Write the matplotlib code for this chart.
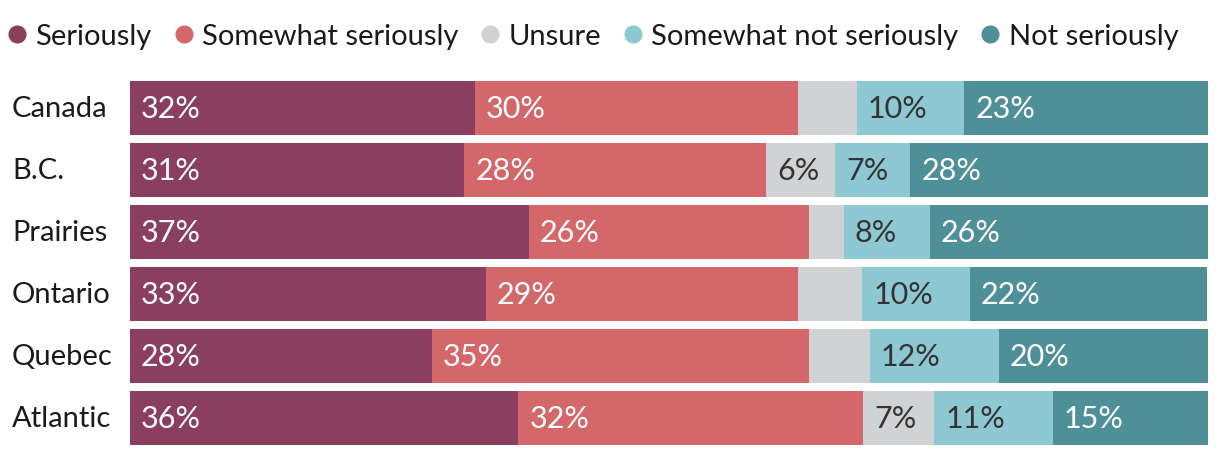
import matplotlib
matplotlib.use("Agg")
import matplotlib.pyplot as plt
import matplotlib.transforms as mtransforms
from matplotlib.lines import Line2D
import numpy as np

plt.rcParams['font.family'] = ['Lato', 'DejaVu Sans']

# data
regions = ["Canada", "B.C.", "Prairies", "Ontario", "Quebec", "Atlantic"]
series = ["Seriously", "Somewhat seriously", "Unsure", "Somewhat not seriously", "Not seriously"]
seriously = [32, 31, 37, 33, 28, 36]
somewhat_seriously = [30, 28, 26, 29, 35, 32]
unsure = [5.4, 6.4, 3.2, 5.9, 5.6, 6.6]
somewhat_not = [10, 7, 8, 10, 12, 11]
not_seriously = [23, 28, 26, 22, 20, 15]

colors = ["#8a3e60", "#d4676a", "#d1d2d4", "#8ec9d3", "#4f8f97"]
text_colors = ["white", "white", "#333333", "#333333", "white"]

values = np.array([seriously, somewhat_seriously, unsure, somewhat_not, not_seriously])

fig = plt.figure(figsize=(12.2, 4.56), dpi=100)
# bars run from y=82 to y=446 px, x=130 to x=1208 px
ax = fig.add_axes([130 / 1220, 10 / 456, 1078 / 1220, 364 / 456])

y = np.arange(len(regions))
left = np.zeros(len(regions))
for i, name in enumerate(series):
    ax.barh(y, values[i], left=left, height=0.871, color=colors[i], label=name)
    for j in range(len(regions)):
        v = values[i][j]
        if v >= 6:
            ax.annotate(f"{v:.0f}%", xy=(left[j], y[j]), xytext=(8, 0),
                        textcoords="offset points", ha="left", va="center",
                        fontsize=22, color=text_colors[i])
    left += values[i]

ax.set_xlim(0, 100)
ax.set_ylim(len(regions) - 1 + 0.4355, -0.4355)
ax.axis("off")

# category labels at the left edge of the figure
trans = mtransforms.blended_transform_factory(fig.transFigure, ax.transData)
for j, r in enumerate(regions):
    ax.text(12 / 1220, y[j], r, transform=trans, ha="left", va="center",
            fontsize=21, color="#1a1a1a")

# legend
handles = [Line2D([], [], marker="o", linestyle="none", markersize=12,
                  markerfacecolor=c, markeredgecolor=c) for c in colors]
fig.legend(handles, series, loc="center left", bbox_to_anchor=(-3 / 1220, 1 - 37 / 456),
           ncol=5, frameon=False, fontsize=21, handlelength=0.6,
           handletextpad=0.32, columnspacing=0.8, borderaxespad=0,
           labelcolor="#1a1a1a")

fig.savefig("out.png", dpi=100)
